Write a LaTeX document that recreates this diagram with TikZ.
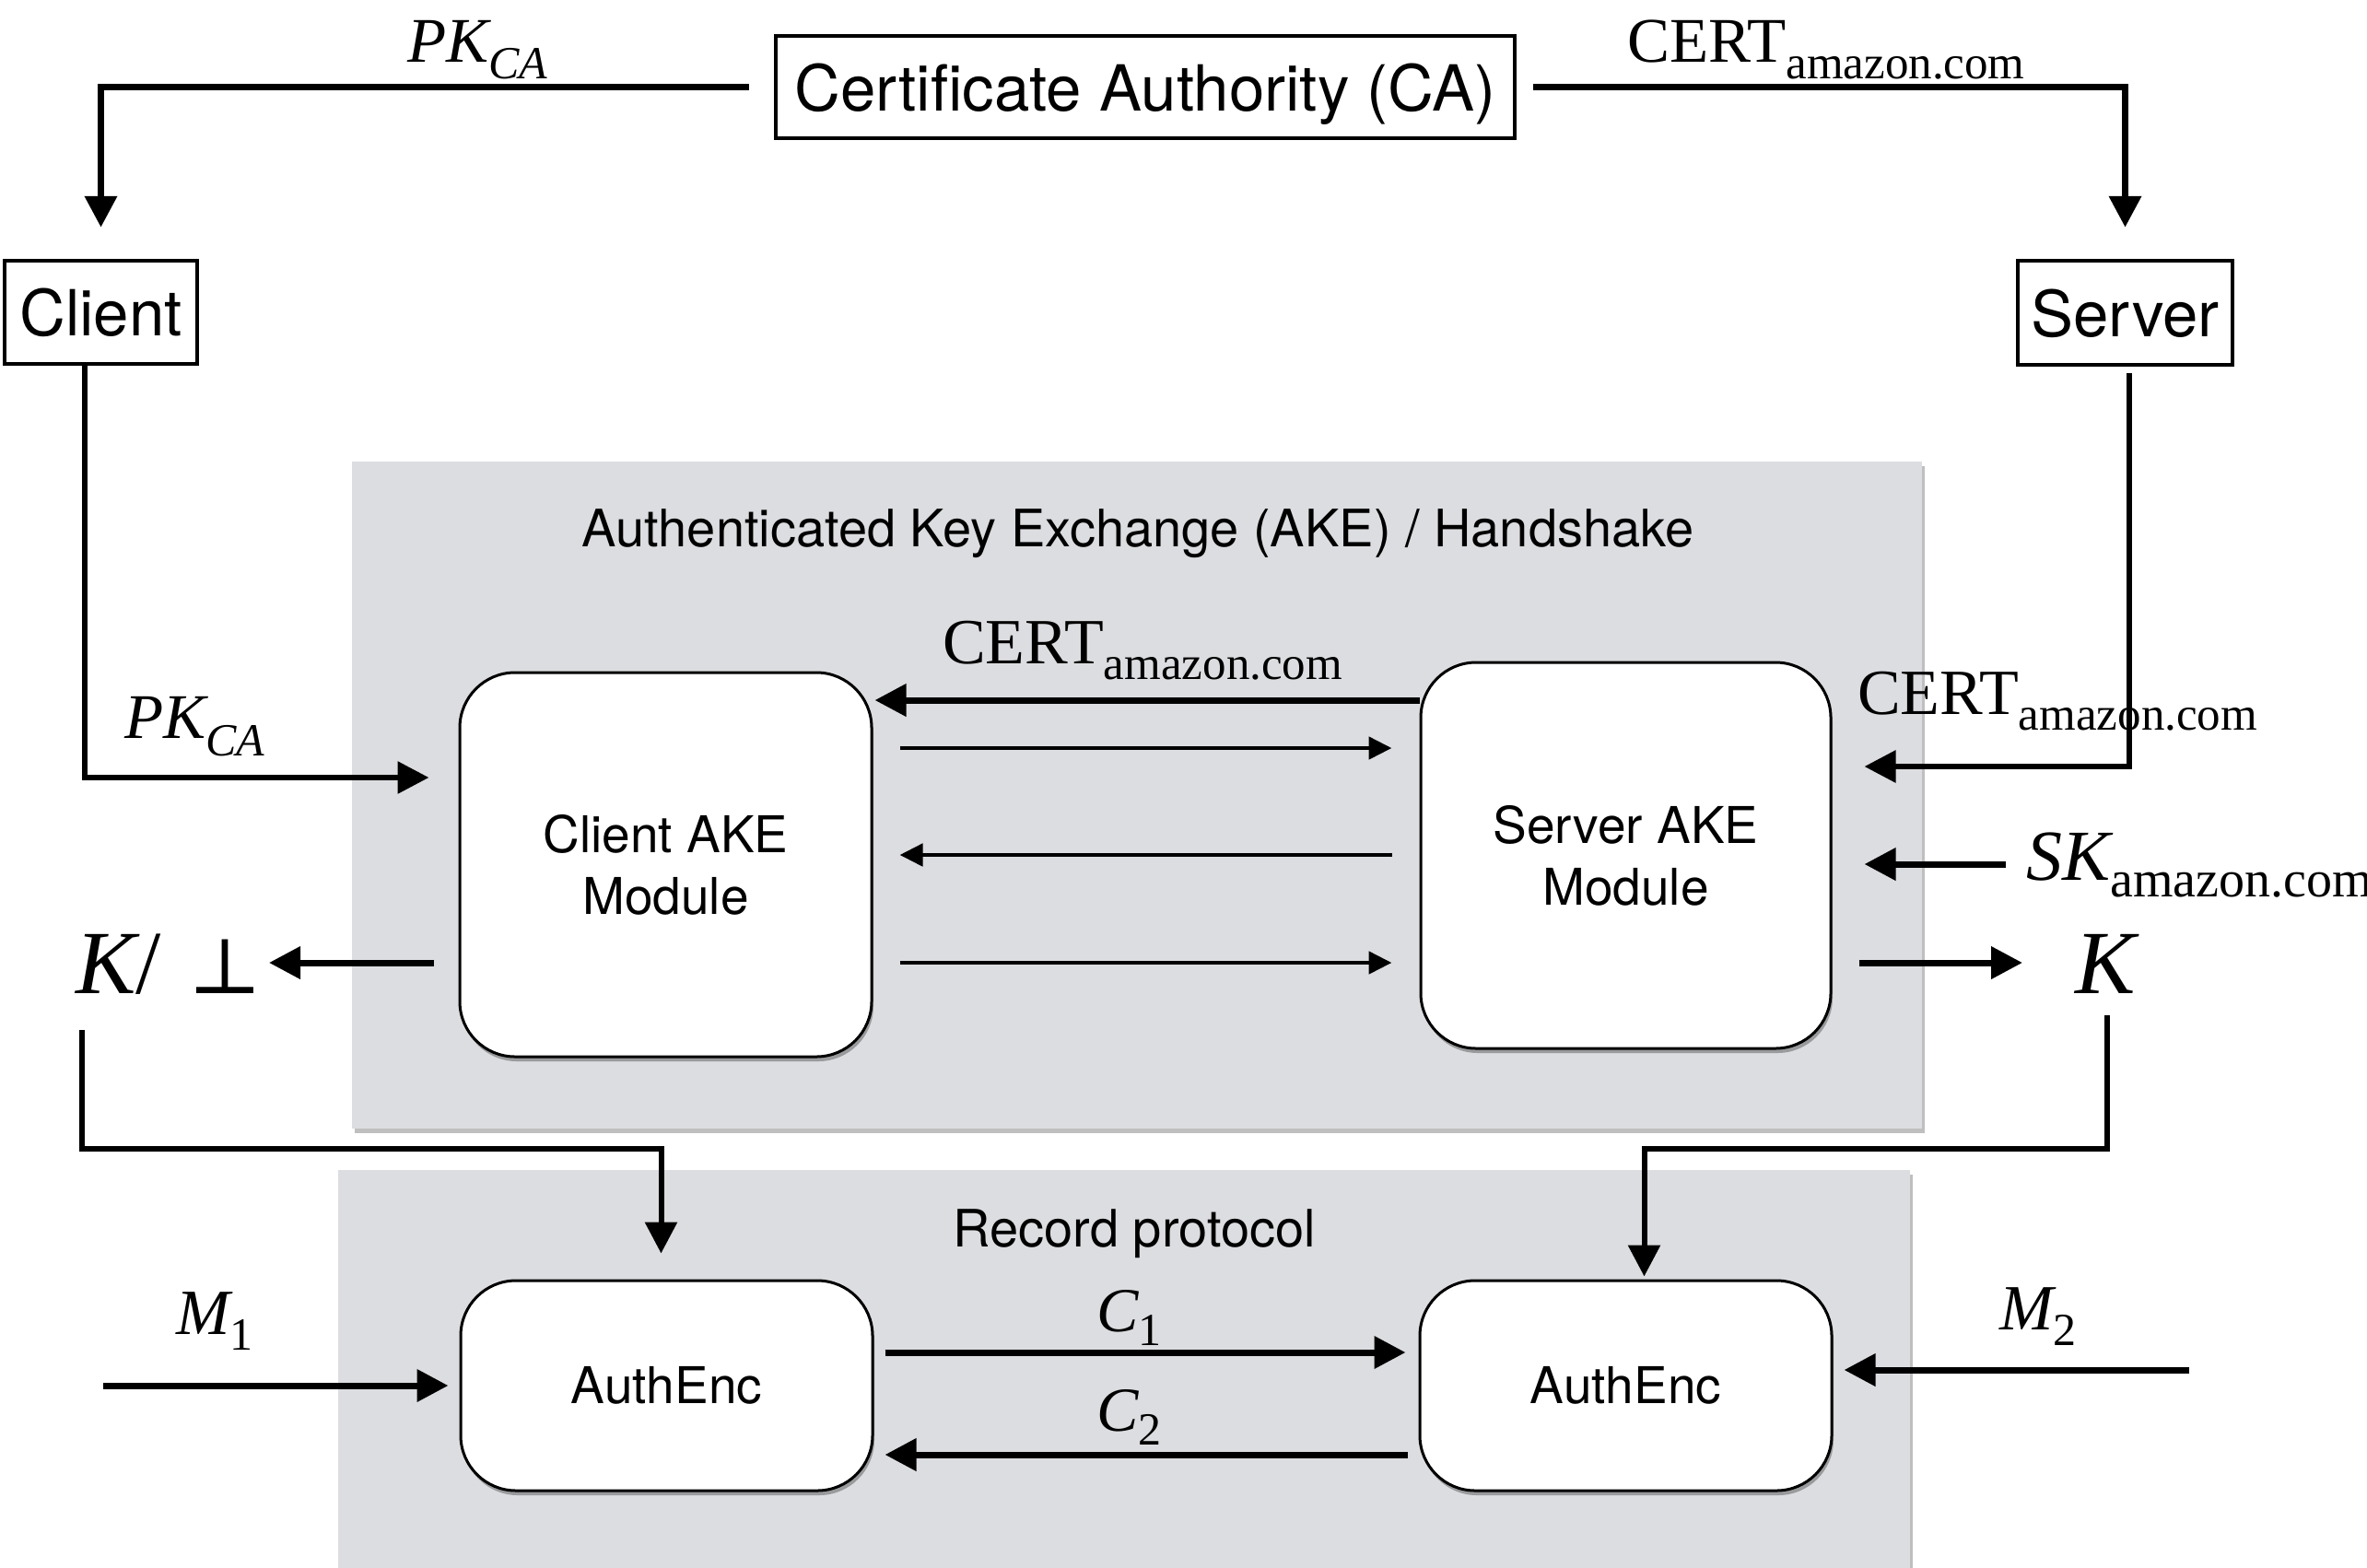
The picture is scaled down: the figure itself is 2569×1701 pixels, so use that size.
\documentclass[tikz,border=0pt]{standalone}
\usepackage{fontspec}
\setmainfont{Liberation Serif}
\setsansfont{TeX Gyre Heros}
\newfontfamily\perpfont{DejaVu Serif}
\usetikzlibrary{arrows.meta,shadows}
\newcommand\fsz[1]{\fontsize{#1}{#1}\selectfont}
\definecolor{panelgray}{RGB}{220,221,224}
\begin{document}
\begin{tikzpicture}[x=1pt,y=-1pt,
  plainbox/.style={draw=black,line width=4.5pt,inner sep=0pt,font=\sffamily\fsz{69},
    text height=51pt,text depth=-2pt},
  panel/.style={fill=panelgray,draw=none,inner sep=0pt,
    drop shadow={shadow xshift=3pt,shadow yshift=-5pt,opacity=0.25,fill=black}},
  modbox/.style={draw=black,line width=3pt,fill=white,rounded corners=60pt,inner sep=0pt,
    align=center,font=\sffamily\fontsize{55}{67}\selectfont,
    drop shadow={shadow xshift=2pt,shadow yshift=-5pt,opacity=0.3,fill=black}},
  paneltitle/.style={inner sep=0pt,anchor=base,font=\sffamily\fsz{56}},
  lbl/.style={inner sep=0pt,anchor=base west},
  bigarrow/.style={line width=7pt,-{Triangle[length=34pt,width=34pt]}},
  smallarrow/.style={line width=4.8pt,-{Triangle[length=25pt,width=24pt]}},
]
\useasboundingbox (0,0) rectangle (2569,1701);
\fill[white] (0,0) rectangle (2569,1701);

% panels
\node[panel,minimum width=1704pt,minimum height=724pt] (akebox) at (1234,863) {};
\node[panel,minimum width=1706pt,minimum height=470pt] (recbox) at (1220,1505) {};
\node[paneltitle] (aketitle) at (1235,593) {Authenticated Key Exchange (AKE) / Handshake};
\node[paneltitle] (rectitle) at (1231,1353) {Record protocol};

% plain boxes
\node[plainbox,minimum width=802pt,minimum height=111pt] (ca) at (1243,94.5) {Certificate Authority (CA)};
\node[plainbox,minimum width=209pt,minimum height=112pt] (client) at (109.5,339) {Client};
\node[plainbox,minimum width=233pt,minimum height=113pt] (server) at (2306.5,339.5) {Server};

% modules
\node[modbox,minimum width=447pt,minimum height=417pt] (cake) at (722.5,938.5) {Client AKE\\Module};
\node[modbox,minimum width=445pt,minimum height=419pt] (sake) at (1764.5,928.5) {Server AKE\\Module};
\node[modbox,minimum width=447pt,minimum height=228pt] (cae) at (723.5,1504) {AuthEnc};
\node[modbox,minimum width=447pt,minimum height=228pt] (sae) at (1764.5,1504) {AuthEnc};

% labels
\node[lbl] (pkca1) at (442,67) {{\fsz{69}\itshape PK}\raisebox{-18pt}{\fsz{50}\itshape CA}};
\node[lbl] (cert1) at (1766,67) {{\fsz{69}CERT}\raisebox{-18pt}{\fsz{51}amazon.com}};
\node[lbl] (pkca2) at (135,801) {{\fsz{69}\itshape PK}\raisebox{-19pt}{\fsz{50}\itshape CA}};
\node[lbl] (cert2) at (1023,720) {{\fsz{70}CERT}\raisebox{-17pt}{\fsz{51}amazon.com}};
\node[lbl] (cert3) at (2016,775) {{\fsz{70}CERT}\raisebox{-17pt}{\fsz{51}amazon.com}};
\node[lbl] (sk) at (2199,955) {{\fsz{78}\itshape SK}\raisebox{-18pt}{\fsz{56}amazon.com}};
\node[lbl] (kbot) at (82,1078) {{\fsz{98}\itshape K}{\fsz{98}/}\hspace{30pt}{\perpfont\fsz{85}⊥}};
\node[lbl] (kright) at (2252,1078) {\fsz{98}\itshape K};
\node[lbl] (mone) at (191,1448) {{\fsz{70}\itshape M}\raisebox{-17pt}{\fsz{50}1}};
\node[lbl] (cone) at (1190,1445) {{\fsz{68}\itshape C}\raisebox{-15pt}{\fsz{50}1}};
\node[lbl] (ctwo) at (1190,1553) {{\fsz{68}\itshape C}\raisebox{-15pt}{\fsz{50}2}};
\node[lbl] (mtwo) at (2170,1443) {{\fsz{70}\itshape M}\raisebox{-17pt}{\fsz{50}2}};

% coordinates
\coordinate (pkturn) at (92,844);
\coordinate (certturn) at (2311,832);
\coordinate (skstart) at (2177,938);
\coordinate (kend) at (2195,1045);
\coordinate (kbend) at (292,1045);
\coordinate (certmid) at (0,760);
\coordinate (ya) at (0,812);
\coordinate (yb) at (0,928);
\coordinate (yc) at (0,1045);
\coordinate (kl1) at (89,1118);
\coordinate (kl2) at (89,1247);
\coordinate (kr1) at (2287,1102);
\coordinate (kr2) at (2287,1247);
\coordinate (m1s) at (112,1504);
\coordinate (c1y) at (0,1468);
\coordinate (c2y) at (0,1579);
\coordinate (m2s) at (2376,1487);

% connectors
\draw[bigarrow,shorten <=27pt,shorten >=34pt] (ca.west) -| (client.north);
\draw[bigarrow,shorten <=18pt,shorten >=34pt] (ca.east) -| (server.north);
\draw[bigarrow,line width=6pt,shorten >=32pt] (client.south -| pkturn) -- (pkturn) -- (cake.west |- pkturn);
\draw[bigarrow,line width=6pt,shorten <=7pt,shorten >=35pt] (server.south -| certturn) -- (certturn) -- (sake.east |- certturn);
\draw[bigarrow,shorten >=35pt] (skstart) -- (sake.east |- skstart);
\draw[bigarrow,shorten <=29pt] (sake.east |- kend) -- (kend);
\draw[bigarrow,shorten <=27pt] (cake.west |- kbend) -- (kbend);

\draw[bigarrow,shorten >=2pt] (sake.west |- certmid) -- (cake.east |- certmid);
\draw[smallarrow,shorten <=29pt,shorten >=30pt] (cake.east |- ya) -- (sake.west |- ya);
\draw[smallarrow,shorten <=30pt,shorten >=29pt] (sake.west |- yb) -- (cake.east |- yb);
\draw[smallarrow,shorten <=29pt,shorten >=30pt] (cake.east |- yc) -- (sake.west |- yc);

\draw[bigarrow,line width=6pt,shorten >=28pt] (kl1) -- (kl2) -| ([xshift=-6pt]cae.north);
\draw[bigarrow,line width=6pt,shorten >=3pt] (kr1) -- (kr2) -| ([xshift=20pt]sae.north);
\draw[bigarrow,shorten >=12pt] (m1s) -- (cae.west |- m1s);
\draw[bigarrow,shorten <=12pt,shorten >=14pt] (cae.east |- c1y) -- (sae.west |- c1y);
\draw[bigarrow,shorten <=12pt,shorten >=12pt] (sae.west |- c2y) -- (cae.east |- c2y);
\draw[bigarrow,shorten >=12pt] (m2s) -- (sae.east |- m2s);
\end{tikzpicture}
\end{document}
